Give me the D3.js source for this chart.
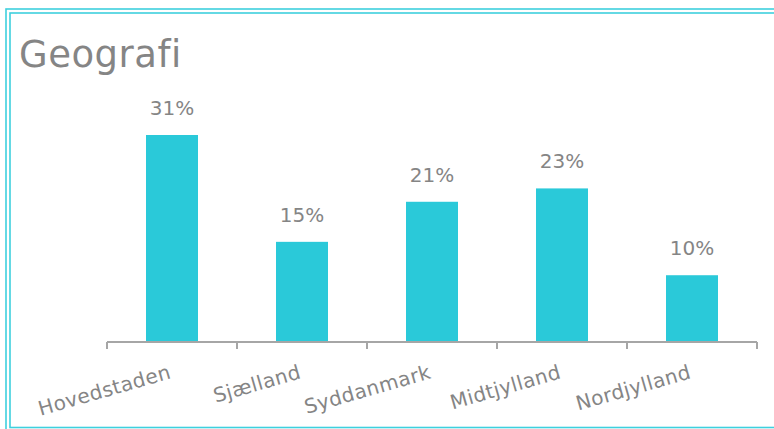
<!DOCTYPE html>
<html>
<head>
<meta charset="utf-8">
<script src="https://cdn.jsdelivr.net/npm/d3@7"></script>
<style>
  body { margin: 0; background: #fff; }
  svg text { font-family: "DejaVu Sans", sans-serif; fill: #858585; }
</style>
</head>
<body>
<script>
var regions = ["Hovedstaden", "Sjælland", "Syddanmark", "Midtjylland", "Nordjylland"];
var shares = [31, 15, 21, 23, 10]; // percent

var width = 774, height = 429;
var axisLeft = 107, axisRight = 757,
    baseY = 342, topY = 135;

var svg = d3.select("body").append("svg")
    .attr("width", width)
    .attr("height", height);

// double frame
svg.append("rect")
    .attr("x", 6).attr("y", 9)
    .attr("width", 800).attr("height", 430)
    .attr("fill", "none").attr("stroke", "#3fd0de").attr("stroke-width", 1.6);
svg.append("rect")
    .attr("x", 10).attr("y", 13)
    .attr("width", 800).attr("height", 414.5)
    .attr("fill", "none").attr("stroke", "#3fd0de").attr("stroke-width", 1.6);

svg.append("text")
    .attr("x", 19).attr("y", 67)
    .style("font-size", "37px")
    .style("letter-spacing", "0.5px")
    .text("Geografi");

var x = d3.scaleBand()
    .domain(regions)
    .range([axisLeft, axisRight])
    .paddingInner(0.6).paddingOuter(0.3);

var y = d3.scaleLinear()
    .domain([0, 31])
    .range([baseY, topY]);

var data = regions.map(function(d, i) { return {name: d, value: shares[i]}; });

svg.selectAll(".bar")
    .data(data)
  .enter().append("rect")
    .attr("class", "bar")
    .attr("x", function(d) { return x(d.name); })
    .attr("y", function(d) { return y(d.value); })
    .attr("width", x.bandwidth())
    .attr("height", function(d) { return baseY - y(d.value); })
    .attr("fill", "#2ac9d9");

svg.selectAll(".lbl")
    .data(data)
  .enter().append("text")
    .attr("class", "lbl")
    .attr("x", function(d) { return x(d.name) + x.bandwidth() / 2; })
    .attr("y", function(d) { return y(d.value) - 20; })
    .attr("text-anchor", "middle")
    .style("font-size", "20px")
    .text(function(d) { return d.value + "%"; });

// category axis with boundary ticks
var step = (axisRight - axisLeft) / regions.length;
var tickPos = d3.range(regions.length + 1).map(function(i) { return axisLeft + i * step; });

svg.append("line")
    .attr("x1", axisLeft).attr("x2", axisRight)
    .attr("y1", baseY).attr("y2", baseY)
    .attr("stroke", "#a6a6a6").attr("stroke-width", 2);

svg.selectAll(".tick")
    .data(tickPos)
  .enter().append("line")
    .attr("class", "tick")
    .attr("x1", function(d) { return d; }).attr("x2", function(d) { return d; })
    .attr("y1", baseY).attr("y2", baseY + 7)
    .attr("stroke", "#a6a6a6").attr("stroke-width", 2);

svg.selectAll(".cat")
    .data(regions)
  .enter().append("text")
    .attr("class", "cat")
    .attr("text-anchor", "end")
    .attr("transform", function(d) {
        return "translate(" + (x(d) + x.bandwidth() / 2) + "," + 378 + ") rotate(-16)";
    })
    .style("font-size", "20px")
    .style("letter-spacing", "0.4px")
    .text(function(d) { return d; });
</script>
</body>
</html>
